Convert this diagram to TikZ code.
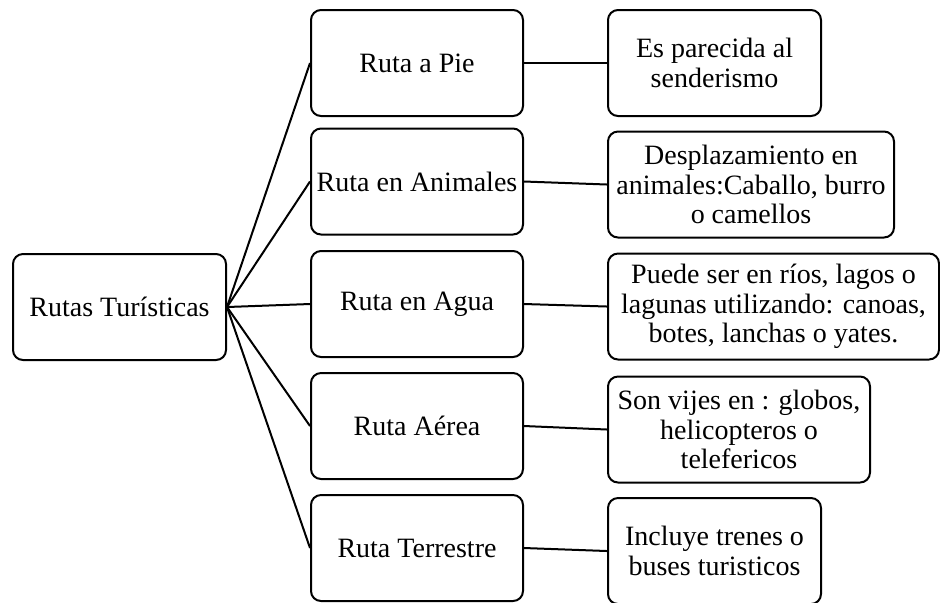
\documentclass[tikz,border=0pt]{standalone}
\usepackage{fontspec}
\setmainfont{Liberation Serif}
\begin{document}
\begin{tikzpicture}[x=0.5pt,y=-0.5pt,line width=1pt,
	every node/.style={font=\fontsize{14}{14.7}\selectfont},
	caja/.style={draw,rounded corners=5pt,align=center,inner sep=0pt,minimum height=53pt}]
	\useasboundingbox (0,0) rectangle (940,602);
	\clip (0,0) rectangle (940,602);
	% raiz
	\node[caja,minimum width=106.5pt] (rutas) at (119.5,307) {Rutas Turísticas};
	% tipos de ruta
	\node[caja,minimum width=106pt] (pie) at (417,63) {Ruta a Pie};
	\node[caja,minimum width=106pt] (animales) at (417,181.5) {Ruta en Animales};
	\node[caja,minimum width=106pt] (agua) at (417,304) {Ruta en Agua};
	\node[caja,minimum width=106pt] (aerea) at (417,426) {Ruta Aérea};
	\node[caja,minimum width=106pt] (terrestre) at (417,548) {Ruta Terrestre};
	% descripciones
	\node[caja,minimum width=106.5pt] (dpie) at (714.5,63) {Es parecida al\\senderismo};
	\node[caja,minimum width=143pt] (danimales) at (751,184.5) {Desplazamiento en\\animales:Caballo, burro\\o camellos};
	\node[caja,minimum width=165.5pt] (dagua) at (773.5,306.5) {Puede ser en ríos, lagos o\\lagunas utilizando: canoas,\\botes, lanchas o yates.};
	\node[caja,minimum width=131pt] (daerea) at (739,429.5) {Son vijes en : globos,\\helicopteros o\\telefericos};
	\node[caja,minimum width=106.5pt] (dterrestre) at (714.5,551) {Incluye trenes o\\buses turisticos};
	% conectores
	\draw (rutas.east) -- (pie.west);
	\draw (rutas.east) -- (animales.west);
	\draw (rutas.east) -- (agua.west);
	\draw (rutas.east) -- (aerea.west);
	\draw (rutas.east) -- (terrestre.west);
	\draw (pie.east) -- (dpie.west);
	\draw (animales.east) -- (danimales.west);
	\draw (agua.east) -- (dagua.west);
	\draw (aerea.east) -- (daerea.west);
	\draw (terrestre.east) -- (dterrestre.west);
\end{tikzpicture}
\end{document}
